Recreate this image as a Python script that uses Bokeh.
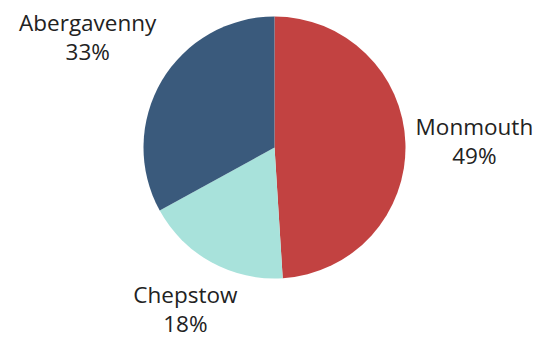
import math
from bokeh.plotting import figure
from bokeh.models import ColumnDataSource, Range1d
from bokeh.core.properties import value
from bokeh.embed import file_html
from bokeh.resources import INLINE

categories = ["Monmouth", "Chepstow", "Abergavenny"]
shares = [49, 18, 33]
colors = ["#c24241", "#a8e2db", "#3a5a7c"]
label_dist = [200, 185, 217]

W, H = 553, 338
cx, cy, r = 274, 191, 131

starts, ends, lx, ly, pct = [], [], [], [], []
a = math.pi / 2
total = sum(shares)
for s, d in zip(shares, label_dist):
    sweep = 2 * math.pi * s / total
    starts.append(a)
    ends.append(a - sweep)
    mid = a - sweep / 2
    lx.append(cx + d * math.cos(mid))
    ly.append(cy + d * math.sin(mid))
    pct.append(f"{s}%")
    a -= sweep

src = ColumnDataSource(dict(cat=categories, start=starts, end=ends, color=colors,
                            lx=lx, ly=ly, pct=pct))

p = figure(width=W, height=H, output_backend="svg", toolbar_location=None,
           x_range=Range1d(0, W), y_range=Range1d(0, H), min_border=0,
           outline_line_color=None, background_fill_color="white")
p.axis.visible = False
p.grid.visible = False

p.wedge(x=cx, y=cy, radius=r, start_angle="start", end_angle="end",
        direction="clock", fill_color="color", line_color=None,
        source=src)
p.text(x="lx", y="ly", text="cat", source=src, text_align="center",
       text_baseline="middle", y_offset=-15, text_font=value("Open Sans"),
       text_font_size="22.5px", text_color="#222222")
p.text(x="lx", y="ly", text="pct", source=src, text_align="center",
       text_baseline="middle", y_offset=14, text_font=value("Open Sans"),
       text_font_size="22.5px", text_color="#222222")

open("out.html", "w").write(file_html(p, INLINE))
